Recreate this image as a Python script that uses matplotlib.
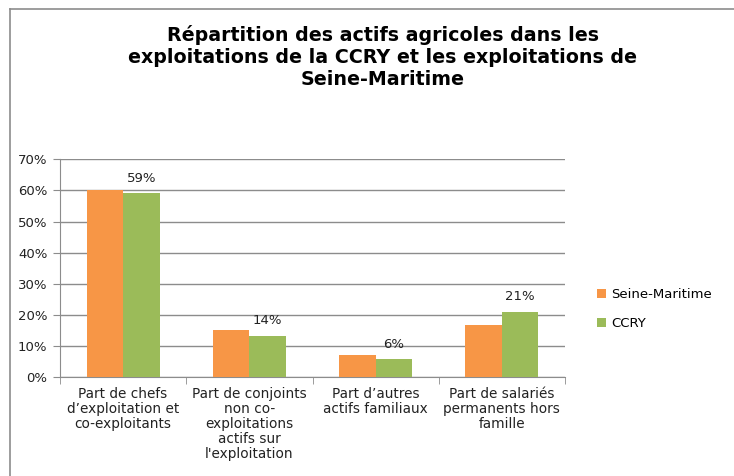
import numpy as np
import matplotlib
matplotlib.use("Agg")
import matplotlib.pyplot as plt
from matplotlib.lines import Line2D

categories = ["Part de chefs\nd\u2019exploitation et\nco-exploitants",
              "Part de conjoints\nnon co-\nexploitations\nactifs sur\nl'exploitation",
              "Part d\u2019autres\nactifs familiaux",
              "Part de salariés\npermanents hors\nfamille"]
seine_maritime = [60.1, 15.2, 7.1, 16.8]
ccry = [59.1, 13.4, 5.8, 21.1]
ccry_labels = ["59%", "14%", "6%", "21%"]
series_names = ["Seine-Maritime", "CCRY"]

orange = "#F79646"
green = "#9BBB59"
grid_col = "#8C8C8C"

fig = plt.figure(figsize=(7.34, 4.76), dpi=100)
ax = fig.add_axes([60/734, 1-377.3/476, 505/734, (377.3-159.3)/476])

x = np.arange(len(categories))
w = 0.29
b1 = ax.bar(x - w/2, seine_maritime, w, color=orange, label=series_names[0], zorder=3)
b2 = ax.bar(x + w/2, ccry, w, color=green, label=series_names[1], zorder=3)

for xi, v, lab in zip(x, ccry, ccry_labels):
    ax.annotate(lab, (xi + w/2, v), xytext=(0, 6), textcoords="offset points",
                ha="center", va="bottom", fontsize=9.5, color="#222222")

ax.set_xlim(-0.5, len(categories) - 0.5)
ax.set_ylim(0, 70)
ax.set_yticks(np.arange(0, 71, 10))
ax.set_yticklabels([f"{t}%" for t in range(0, 71, 10)], fontsize=9.5, color="#222222")
ax.yaxis.grid(True, color=grid_col, linewidth=1, zorder=0)

ax.set_xticks(x)
ax.set_xticklabels(categories, fontsize=9.8, color="#222222", linespacing=1.08)
ax.set_xticks(np.arange(-0.5, len(categories)), minor=True)
ax.tick_params(axis="x", which="major", length=0, pad=7)
ax.tick_params(axis="x", which="minor", length=5, color=grid_col)
ax.tick_params(axis="y", length=5, color=grid_col, pad=4)

for s in ["top", "right"]:
    ax.spines[s].set_visible(False)
ax.spines["left"].set_color(grid_col)
ax.spines["bottom"].set_color(grid_col)

fig.legend(handles=[b1, b2], labels=series_names, loc="center left",
           bbox_to_anchor=(585/734, 1-309/476), frameon=False, fontsize=9.5,
           handlelength=0.7, handleheight=0.7, handletextpad=0.4, labelspacing=1.2)

fig.text(383/734, 1-57/476,
         "Répartition des actifs agricoles dans les\nexploitations de la CCRY et les exploitations de\nSeine-Maritime",
         ha="center", va="center", fontsize=13.7, fontweight="bold", linespacing=1.2)

# chart frame (left and top edges visible)
fig.add_artist(Line2D([10/734, 10/734], [0, 1-9/476], transform=fig.transFigure, color="#8C8C8C", lw=1.2))
fig.add_artist(Line2D([10/734, 1], [1-9/476, 1-9/476], transform=fig.transFigure, color="#8C8C8C", lw=1.2))

fig.savefig("out.png", dpi=100)
